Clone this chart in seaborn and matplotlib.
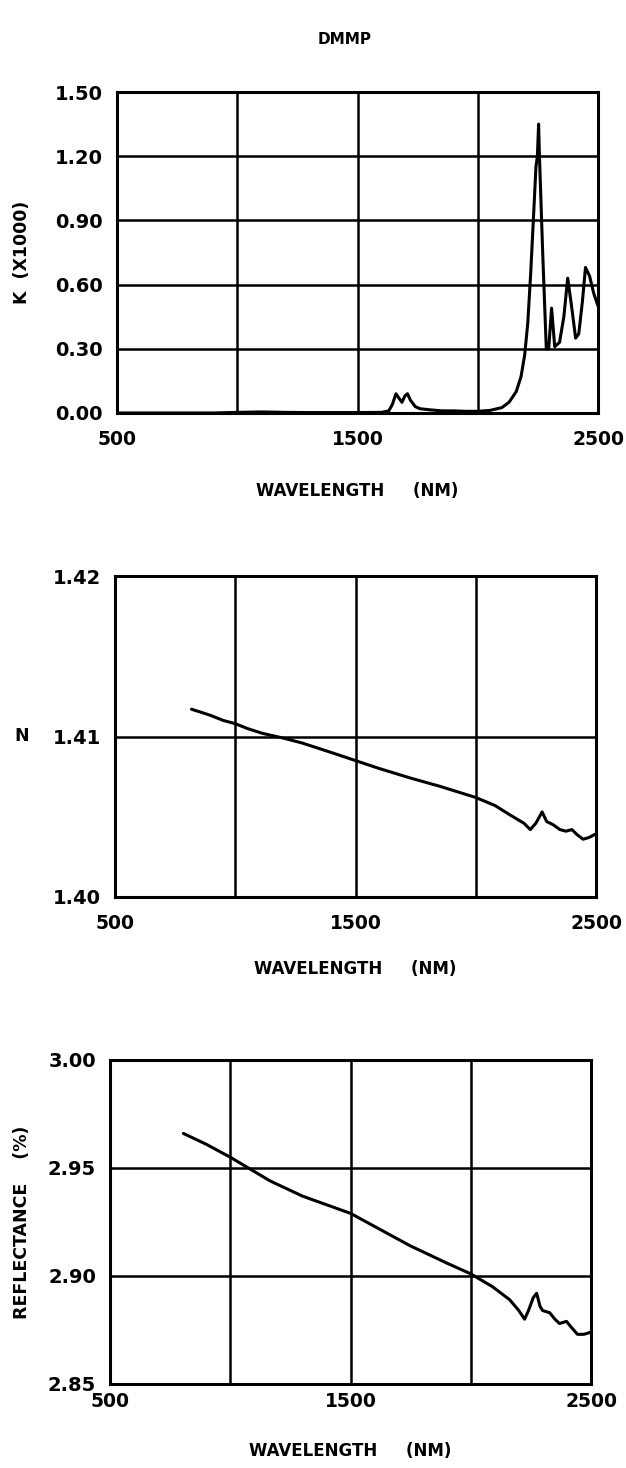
import numpy as np
import pandas as pd
import matplotlib
matplotlib.use("Agg")
import matplotlib.pyplot as plt
import seaborn as sns

# --- data ---
k_wl = [500, 700, 900, 1000, 1100, 1200, 1300, 1400, 1500, 1600, 1630, 1645, 1660,
        1672, 1685, 1697, 1708, 1720, 1740, 1760, 1800, 1850, 1900, 1950, 2000, 2050,
        2100, 2130, 2160, 2180, 2195, 2208, 2220, 2232, 2242, 2248, 2253, 2256, 2270,
        2285, 2295, 2307, 2320, 2340, 2358, 2374, 2390, 2407, 2420, 2435, 2448, 2465,
        2482, 2500]
k_val = [0.0, 0.0, 0.0, 0.003, 0.005, 0.003, 0.002, 0.002, 0.002, 0.003, 0.01, 0.04,
         0.09, 0.07, 0.05, 0.08, 0.09, 0.06, 0.03, 0.02, 0.015, 0.01, 0.01, 0.008,
         0.008, 0.012, 0.025, 0.05, 0.10, 0.17, 0.27, 0.42, 0.65, 0.92, 1.15, 1.20,
         1.35, 1.22, 0.75, 0.30, 0.30, 0.49, 0.31, 0.33, 0.45, 0.63, 0.50, 0.35, 0.37,
         0.52, 0.68, 0.64, 0.56, 0.50]

n_wl = [818, 860, 900, 950, 1000, 1050, 1112, 1200, 1277, 1400, 1500, 1600, 1731, 1850,
        2000, 2080, 2144, 2200, 2227, 2250, 2276, 2295, 2322, 2350, 2375, 2400, 2420,
        2446, 2470, 2495]
n_val = [1.4117, 1.4115, 1.4113, 1.4110, 1.4108, 1.4105, 1.4102, 1.4099, 1.4096,
         1.4090, 1.4085, 1.4080, 1.4074, 1.4069, 1.4062, 1.4057, 1.4051, 1.4046,
         1.4042, 1.4046, 1.4053, 1.4047, 1.4045, 1.4042, 1.4041, 1.4042, 1.4039,
         1.4036, 1.4037, 1.4039]

r_wl = [805, 900, 1000, 1166, 1300, 1500, 1748, 1900, 2000, 2091, 2162, 2200, 2224,
        2240, 2260, 2274, 2288, 2299, 2328, 2350, 2369, 2398, 2420, 2444, 2470, 2500]
r_val = [2.966, 2.961, 2.955, 2.944, 2.937, 2.929, 2.914, 2.906, 2.901, 2.895, 2.889,
         2.884, 2.880, 2.884, 2.890, 2.892, 2.886, 2.884, 2.883, 2.880, 2.878, 2.879,
         2.876, 2.873, 2.873, 2.874]

panels = [
    dict(x=k_wl, y=k_val, ylim=(0.0, 1.5), yticks=[0.0, 0.3, 0.6, 0.9, 1.2, 1.5],
         ylabel="K  (X1000)", rot=90, box=[117, 92, 598, 413], tpad=12, lpad=24),
    dict(x=n_wl, y=n_val, ylim=(1.40, 1.42), yticks=[1.40, 1.41, 1.42],
         ylabel="N", rot=0, box=[115, 576, 596, 897], tpad=12, lpad=20),
    dict(x=r_wl, y=r_val, ylim=(2.85, 3.00), yticks=[2.85, 2.90, 2.95, 3.00],
         ylabel="REFLECTANCE    (%)", rot=90, box=[110, 1060, 591, 1384], tpad=6, lpad=22),
]

sns.set_style("white")
plt.rcParams["font.family"] = ["DejaVu Sans"]
plt.rcParams["text.color"] = "black"
plt.rcParams["xtick.color"] = "black"
plt.rcParams["ytick.color"] = "black"
plt.rcParams["axes.labelcolor"] = "black"

W, H = 626, 1468
fig = plt.figure(figsize=(W / 100, H / 100), dpi=100)

for p in panels:
    l, t, r, b = p["box"]
    ax = fig.add_axes([l / W, 1 - b / H, (r - l) / W, (b - t) / H])
    df = pd.DataFrame({"wl": p["x"], "v": p["y"]})
    sns.lineplot(data=df, x="wl", y="v", ax=ax, color="black", lw=2.2, sort=False)
    ax.set_xlim(500, 2500)
    ax.set_ylim(*p["ylim"])
    # grid lines at every 500 nm and at every inner y tick
    for gx in [1000, 1500, 2000]:
        ax.axvline(gx, color="black", lw=1.8, zorder=1)
    for gy in p["yticks"][1:-1]:
        ax.axhline(gy, color="black", lw=1.8, zorder=1)
    ax.set_xticks([500, 1500, 2500])
    ax.set_xticklabels(["500", "1500", "2500"], fontsize=13.5, fontweight="bold")
    ax.set_yticks(p["yticks"])
    ax.set_yticklabels([f"{v:.2f}" for v in p["yticks"]], fontsize=14, fontweight="bold")
    ax.tick_params(axis="y", length=0, pad=10)
    ax.tick_params(axis="x", length=0, pad=p["tpad"])
    for s in ax.spines.values():
        s.set_visible(True)
        s.set_color("black")
        s.set_linewidth(2.2)
    ax.set_xlabel("WAVELENGTH     (NM)", fontsize=12, fontweight="bold", labelpad=p["lpad"])
    ax.set_ylabel(p["ylabel"], fontsize=12.5, fontweight="bold", rotation=p["rot"],
                  va="center", ha="center")
    ax.yaxis.set_label_coords(-(l - 22) / (r - l), 0.5)

fig.text(345 / W, 1 - 40 / H, "DMMP", ha="center", va="center",
         fontsize=11, fontweight="bold")

fig.savefig("out.png", dpi=100, facecolor="white")
